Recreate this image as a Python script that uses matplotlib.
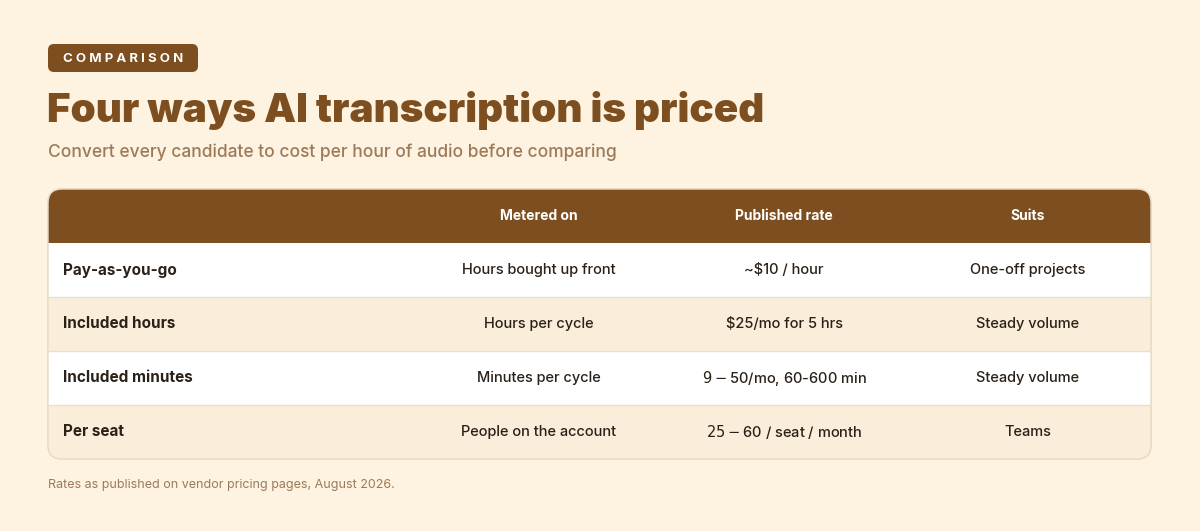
import matplotlib.pyplot as plt
from matplotlib.patches import FancyBboxPatch, Rectangle

plt.rcParams['font.family'] = ['Inter', 'DejaVu Sans']

#--- data ---#
columns = ["", "Metered on", "Published rate", "Suits"]
models = ["Pay-as-you-go", "Included hours", "Included minutes", "Per seat"]
metered = ["Hours bought up front", "Hours per cycle", "Minutes per cycle", "People on the account"]
rates = ["~$10 / hour", "$25/mo for 5 hrs", "$9-$50/mo, 60-600 min", "$25-$60 / seat / month"]
suits = ["One-off projects", "Steady volume", "Steady volume", "Teams"]

bg = "#FDF3E0"
brown = "#7D4E1F"
alt = "#FAEEDA"
dark = "#2B2118"
muted = "#9C7A5A"

fig = plt.figure(figsize=(12, 5.31), dpi=100, facecolor=bg)
ax = fig.add_axes([0, 0, 1, 1])
ax.set_xlim(0, 1200)
ax.set_ylim(531, 0)
ax.axis("off")

#--- badge + titles ---#
ax.add_patch(FancyBboxPatch((48, 44), 150, 28, boxstyle="round,pad=0,rounding_size=6",
                            fc=brown, ec="none"))
ax.text(123, 58.5, "C O M P A R I S O N", color="white", fontsize=9.5, weight="bold",
        ha="center", va="center")
ax.text(47, 111, "Four ways AI transcription is priced", color=brown, fontsize=29,
        weight="black", va="center", ha="left")
ax.text(48, 152, "Convert every candidate to cost per hour of audio before comparing",
        color=muted, fontsize=12.5, weight="medium", va="center")

#--- table ---#
x0, x1, top, head_h, row_h = 48, 1151, 189, 54, 54
bottom = top + head_h + row_h * len(models)
frame = FancyBboxPatch((x0, top), x1 - x0, bottom - top,
                       boxstyle="round,pad=0,rounding_size=14", fc="white",
                       ec="#E8DCC6", lw=1)
ax.add_patch(frame)
hdr = Rectangle((x0, top), x1 - x0, head_h, fc=brown, ec="none")
ax.add_patch(hdr)
hdr.set_clip_path(frame)

col_x = [63, 539, 784, 1028]
for j, c in enumerate(columns):
    ax.text(col_x[j], top + head_h / 2, c, color="white", fontsize=10, weight="bold",
            ha="center", va="center")

for i, m in enumerate(models):
    y = top + head_h + i * row_h
    r = Rectangle((x0, y), x1 - x0, row_h, fc="white" if i % 2 == 0 else alt, ec="none")
    ax.add_patch(r)
    r.set_clip_path(frame)
    if i > 0:
        ax.plot([x0, x1], [y, y], color="#EADFCB", lw=1)
    yc = y + row_h / 2
    ax.text(col_x[0], yc, m, color=dark, fontsize=11, weight="bold", ha="left", va="center")
    for j, v in enumerate([metered[i], rates[i], suits[i]]):
        ax.text(col_x[j + 1], yc, v, color=dark, fontsize=10.5, weight="medium",
                ha="center", va="center")

ax.add_patch(FancyBboxPatch((x0, top), x1 - x0, bottom - top,
                            boxstyle="round,pad=0,rounding_size=14", fc="none",
                            ec="#E8DCC6", lw=1))

ax.text(48, 485, "Rates as published on vendor pricing pages, August 2026.",
        color=muted, fontsize=9, va="center")

fig.savefig("out.png", dpi=100, facecolor=bg)
